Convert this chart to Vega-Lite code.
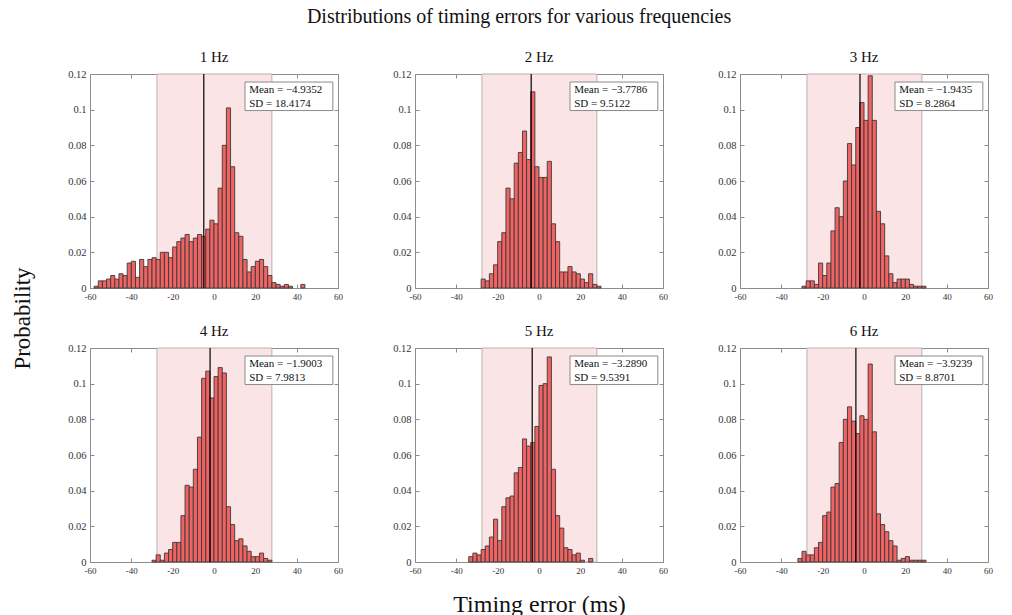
{
  "$schema": "https://vega.github.io/schema/vega-lite/v6.json",
  "padding": {"left": 11, "top": 7, "right": 10, "bottom": 2},
  "title": {"text": "Distributions of timing errors for various frequencies", "fontSize": 20, "anchor": "middle", "frame": "bounds", "dx": 17, "offset": 23},
  "datasets": {
    "stats": [
      {"f": "1 Hz", "mean": -4.9352, "ml": "Mean = −4.9352", "sl": "SD = 18.4174"},
      {"f": "2 Hz", "mean": -3.7786, "ml": "Mean = −3.7786", "sl": "SD = 9.5122"},
      {"f": "3 Hz", "mean": -1.9435, "ml": "Mean = −1.9435", "sl": "SD = 8.2864"},
      {"f": "4 Hz", "mean": -1.9003, "ml": "Mean = −1.9003", "sl": "SD = 7.9813"},
      {"f": "5 Hz", "mean": -3.2890, "ml": "Mean = −3.2890", "sl": "SD = 9.5391"},
      {"f": "6 Hz", "mean": -3.9239, "ml": "Mean = −3.9239", "sl": "SD = 8.8701"}
    ],
    "hist": [
      {"f":"1 Hz","s":-58,"e":-56,"p":0.001},{"f":"1 Hz","s":-56,"e":-54,"p":0.004},{"f":"1 Hz","s":-54,"e":-52,"p":0.004},{"f":"1 Hz","s":-52,"e":-50,"p":0.005},{"f":"1 Hz","s":-50,"e":-48,"p":0.007},{"f":"1 Hz","s":-48,"e":-46,"p":0.005},{"f":"1 Hz","s":-46,"e":-44,"p":0.008},{"f":"1 Hz","s":-44,"e":-42,"p":0.007},{"f":"1 Hz","s":-42,"e":-40,"p":0.014},{"f":"1 Hz","s":-40,"e":-38,"p":0.015},{"f":"1 Hz","s":-38,"e":-36,"p":0.006},{"f":"1 Hz","s":-36,"e":-34,"p":0.016},{"f":"1 Hz","s":-34,"e":-32,"p":0.012},{"f":"1 Hz","s":-32,"e":-30,"p":0.016},{"f":"1 Hz","s":-30,"e":-28,"p":0.017},{"f":"1 Hz","s":-28,"e":-26,"p":0.016},{"f":"1 Hz","s":-26,"e":-24,"p":0.020},{"f":"1 Hz","s":-24,"e":-22,"p":0.020},{"f":"1 Hz","s":-22,"e":-20,"p":0.017},{"f":"1 Hz","s":-20,"e":-18,"p":0.023},{"f":"1 Hz","s":-18,"e":-16,"p":0.026},{"f":"1 Hz","s":-16,"e":-14,"p":0.028},{"f":"1 Hz","s":-14,"e":-12,"p":0.030},{"f":"1 Hz","s":-12,"e":-10,"p":0.026},{"f":"1 Hz","s":-10,"e":-8,"p":0.028},{"f":"1 Hz","s":-8,"e":-6,"p":0.030},{"f":"1 Hz","s":-6,"e":-4,"p":0.029},{"f":"1 Hz","s":-4,"e":-2,"p":0.033},{"f":"1 Hz","s":-2,"e":0,"p":0.038},{"f":"1 Hz","s":0,"e":2,"p":0.036},{"f":"1 Hz","s":2,"e":4,"p":0.056},{"f":"1 Hz","s":4,"e":6,"p":0.080},{"f":"1 Hz","s":6,"e":8,"p":0.101},{"f":"1 Hz","s":8,"e":10,"p":0.068},{"f":"1 Hz","s":10,"e":12,"p":0.031},{"f":"1 Hz","s":12,"e":14,"p":0.029},{"f":"1 Hz","s":14,"e":16,"p":0.016},{"f":"1 Hz","s":16,"e":18,"p":0.009},{"f":"1 Hz","s":18,"e":20,"p":0.012},{"f":"1 Hz","s":20,"e":22,"p":0.015},{"f":"1 Hz","s":22,"e":24,"p":0.016},{"f":"1 Hz","s":24,"e":26,"p":0.012},{"f":"1 Hz","s":26,"e":28,"p":0.007},{"f":"1 Hz","s":28,"e":30,"p":0.003},{"f":"1 Hz","s":30,"e":32,"p":0.002},{"f":"1 Hz","s":32,"e":34,"p":0.001},{"f":"1 Hz","s":34,"e":36,"p":0.002},{"f":"1 Hz","s":36,"e":38,"p":0.001},{"f":"1 Hz","s":42,"e":44,"p":0.002},
      {"f":"2 Hz","s":-28,"e":-26,"p":0.005},{"f":"2 Hz","s":-26,"e":-24,"p":0.004},{"f":"2 Hz","s":-24,"e":-22,"p":0.008},{"f":"2 Hz","s":-22,"e":-20,"p":0.013},{"f":"2 Hz","s":-20,"e":-18,"p":0.026},{"f":"2 Hz","s":-18,"e":-16,"p":0.031},{"f":"2 Hz","s":-16,"e":-14,"p":0.056},{"f":"2 Hz","s":-14,"e":-12,"p":0.050},{"f":"2 Hz","s":-12,"e":-10,"p":0.070},{"f":"2 Hz","s":-10,"e":-8,"p":0.076},{"f":"2 Hz","s":-8,"e":-6,"p":0.088},{"f":"2 Hz","s":-6,"e":-4,"p":0.072},{"f":"2 Hz","s":-4,"e":-2,"p":0.110},{"f":"2 Hz","s":-2,"e":0,"p":0.068},{"f":"2 Hz","s":0,"e":2,"p":0.062},{"f":"2 Hz","s":2,"e":4,"p":0.062},{"f":"2 Hz","s":4,"e":6,"p":0.071},{"f":"2 Hz","s":6,"e":8,"p":0.036},{"f":"2 Hz","s":8,"e":10,"p":0.026},{"f":"2 Hz","s":10,"e":12,"p":0.009},{"f":"2 Hz","s":12,"e":14,"p":0.009},{"f":"2 Hz","s":14,"e":16,"p":0.012},{"f":"2 Hz","s":16,"e":18,"p":0.009},{"f":"2 Hz","s":18,"e":20,"p":0.008},{"f":"2 Hz","s":20,"e":22,"p":0.005},{"f":"2 Hz","s":22,"e":24,"p":0.003},{"f":"2 Hz","s":24,"e":26,"p":0.008},{"f":"2 Hz","s":26,"e":28,"p":0.002},{"f":"2 Hz","s":28,"e":30,"p":0.001},
      {"f":"3 Hz","s":-30,"e":-28,"p":0.001},{"f":"3 Hz","s":-28,"e":-26,"p":0.004},{"f":"3 Hz","s":-26,"e":-24,"p":0.004},{"f":"3 Hz","s":-24,"e":-22,"p":0.002},{"f":"3 Hz","s":-22,"e":-20,"p":0.014},{"f":"3 Hz","s":-20,"e":-18,"p":0.007},{"f":"3 Hz","s":-18,"e":-16,"p":0.014},{"f":"3 Hz","s":-16,"e":-14,"p":0.032},{"f":"3 Hz","s":-14,"e":-12,"p":0.045},{"f":"3 Hz","s":-12,"e":-10,"p":0.040},{"f":"3 Hz","s":-10,"e":-8,"p":0.060},{"f":"3 Hz","s":-8,"e":-6,"p":0.081},{"f":"3 Hz","s":-6,"e":-4,"p":0.069},{"f":"3 Hz","s":-4,"e":-2,"p":0.090},{"f":"3 Hz","s":-2,"e":0,"p":0.104},{"f":"3 Hz","s":0,"e":2,"p":0.094},{"f":"3 Hz","s":2,"e":4,"p":0.119},{"f":"3 Hz","s":4,"e":6,"p":0.094},{"f":"3 Hz","s":6,"e":8,"p":0.043},{"f":"3 Hz","s":8,"e":10,"p":0.036},{"f":"3 Hz","s":10,"e":12,"p":0.018},{"f":"3 Hz","s":12,"e":14,"p":0.008},{"f":"3 Hz","s":14,"e":16,"p":0.003},{"f":"3 Hz","s":16,"e":18,"p":0.005},{"f":"3 Hz","s":18,"e":20,"p":0.005},{"f":"3 Hz","s":20,"e":22,"p":0.005},{"f":"3 Hz","s":22,"e":24,"p":0.002},{"f":"3 Hz","s":24,"e":26,"p":0.001},{"f":"3 Hz","s":26,"e":28,"p":0.001},{"f":"3 Hz","s":28,"e":30,"p":0.001},
      {"f":"4 Hz","s":-30,"e":-28,"p":0.001},{"f":"4 Hz","s":-28,"e":-26,"p":0.004},{"f":"4 Hz","s":-26,"e":-24,"p":0.001},{"f":"4 Hz","s":-24,"e":-22,"p":0.005},{"f":"4 Hz","s":-22,"e":-20,"p":0.007},{"f":"4 Hz","s":-20,"e":-18,"p":0.011},{"f":"4 Hz","s":-18,"e":-16,"p":0.011},{"f":"4 Hz","s":-16,"e":-14,"p":0.026},{"f":"4 Hz","s":-14,"e":-12,"p":0.043},{"f":"4 Hz","s":-12,"e":-10,"p":0.042},{"f":"4 Hz","s":-10,"e":-8,"p":0.052},{"f":"4 Hz","s":-8,"e":-6,"p":0.070},{"f":"4 Hz","s":-6,"e":-4,"p":0.103},{"f":"4 Hz","s":-4,"e":-2,"p":0.107},{"f":"4 Hz","s":-2,"e":0,"p":0.092},{"f":"4 Hz","s":0,"e":2,"p":0.104},{"f":"4 Hz","s":2,"e":4,"p":0.109},{"f":"4 Hz","s":4,"e":6,"p":0.106},{"f":"4 Hz","s":6,"e":8,"p":0.031},{"f":"4 Hz","s":8,"e":10,"p":0.021},{"f":"4 Hz","s":10,"e":12,"p":0.012},{"f":"4 Hz","s":12,"e":14,"p":0.013},{"f":"4 Hz","s":14,"e":16,"p":0.009},{"f":"4 Hz","s":16,"e":18,"p":0.006},{"f":"4 Hz","s":18,"e":20,"p":0.003},{"f":"4 Hz","s":20,"e":22,"p":0.003},{"f":"4 Hz","s":22,"e":24,"p":0.005},{"f":"4 Hz","s":24,"e":26,"p":0.002},{"f":"4 Hz","s":26,"e":28,"p":0.001},
      {"f":"5 Hz","s":-34,"e":-32,"p":0.003},{"f":"5 Hz","s":-32,"e":-30,"p":0.005},{"f":"5 Hz","s":-30,"e":-28,"p":0.004},{"f":"5 Hz","s":-28,"e":-26,"p":0.007},{"f":"5 Hz","s":-26,"e":-24,"p":0.009},{"f":"5 Hz","s":-24,"e":-22,"p":0.014},{"f":"5 Hz","s":-22,"e":-20,"p":0.024},{"f":"5 Hz","s":-20,"e":-18,"p":0.012},{"f":"5 Hz","s":-18,"e":-16,"p":0.031},{"f":"5 Hz","s":-16,"e":-14,"p":0.036},{"f":"5 Hz","s":-14,"e":-12,"p":0.037},{"f":"5 Hz","s":-12,"e":-10,"p":0.050},{"f":"5 Hz","s":-10,"e":-8,"p":0.053},{"f":"5 Hz","s":-8,"e":-6,"p":0.069},{"f":"5 Hz","s":-6,"e":-4,"p":0.065},{"f":"5 Hz","s":-4,"e":-2,"p":0.067},{"f":"5 Hz","s":-2,"e":0,"p":0.076},{"f":"5 Hz","s":0,"e":2,"p":0.099},{"f":"5 Hz","s":2,"e":4,"p":0.100},{"f":"5 Hz","s":4,"e":6,"p":0.115},{"f":"5 Hz","s":6,"e":8,"p":0.052},{"f":"5 Hz","s":8,"e":10,"p":0.026},{"f":"5 Hz","s":10,"e":12,"p":0.019},{"f":"5 Hz","s":12,"e":14,"p":0.008},{"f":"5 Hz","s":14,"e":16,"p":0.007},{"f":"5 Hz","s":16,"e":18,"p":0.004},{"f":"5 Hz","s":18,"e":20,"p":0.005},{"f":"5 Hz","s":20,"e":22,"p":0.001},{"f":"5 Hz","s":24,"e":26,"p":0.002},
      {"f":"6 Hz","s":-32,"e":-30,"p":0.002},{"f":"6 Hz","s":-30,"e":-28,"p":0.006},{"f":"6 Hz","s":-28,"e":-26,"p":0.004},{"f":"6 Hz","s":-26,"e":-24,"p":0.004},{"f":"6 Hz","s":-24,"e":-22,"p":0.008},{"f":"6 Hz","s":-22,"e":-20,"p":0.011},{"f":"6 Hz","s":-20,"e":-18,"p":0.026},{"f":"6 Hz","s":-18,"e":-16,"p":0.028},{"f":"6 Hz","s":-16,"e":-14,"p":0.042},{"f":"6 Hz","s":-14,"e":-12,"p":0.044},{"f":"6 Hz","s":-12,"e":-10,"p":0.067},{"f":"6 Hz","s":-10,"e":-8,"p":0.080},{"f":"6 Hz","s":-8,"e":-6,"p":0.087},{"f":"6 Hz","s":-6,"e":-4,"p":0.079},{"f":"6 Hz","s":-4,"e":-2,"p":0.072},{"f":"6 Hz","s":-2,"e":0,"p":0.082},{"f":"6 Hz","s":0,"e":2,"p":0.080},{"f":"6 Hz","s":2,"e":4,"p":0.111},{"f":"6 Hz","s":4,"e":6,"p":0.073},{"f":"6 Hz","s":6,"e":8,"p":0.027},{"f":"6 Hz","s":8,"e":10,"p":0.021},{"f":"6 Hz","s":10,"e":12,"p":0.017},{"f":"6 Hz","s":12,"e":14,"p":0.012},{"f":"6 Hz","s":14,"e":16,"p":0.009},{"f":"6 Hz","s":16,"e":18,"p":0.001},{"f":"6 Hz","s":18,"e":20,"p":0.002},{"f":"6 Hz","s":20,"e":22,"p":0.003},{"f":"6 Hz","s":22,"e":24,"p":0.001},{"f":"6 Hz","s":24,"e":26,"p":0.001},{"f":"6 Hz","s":26,"e":28,"p":0.001},{"f":"6 Hz","s":28,"e":30,"p":0.001}
    ]
  },
  "columns": 3,
  "spacing": {"row": 60, "column": 77},
  "bounds": "flush",
  "concat": [
    {
      "width": 248, "height": 214, "title": {"text": "1 Hz"},
      "resolve": {"axis": {"x": "independent", "y": "independent"}},
      "layer": [
        {"data": {"name": "stats"}, "transform": [{"filter": "datum.f == '1 Hz'"}], "mark": {"type": "rect", "fill": "#fbe4e5", "stroke": "#bdb0b1", "strokeWidth": 1},
         "encoding": {"x": {"datum": -27.6, "type": "quantitative", "scale": {"domain": [-60, 60], "nice": false, "zero": false}, "axis": null}, "x2": {"datum": 28.0}, "y": {"datum": 0, "type": "quantitative", "scale": {"domain": [0, 0.12], "nice": false}, "axis": null}, "y2": {"datum": 0.12}}},
        {"data": {"name": "hist"}, "transform": [{"filter": "datum.f == '1 Hz'"}], "mark": {"type": "rect", "fill": "#f16262", "stroke": "#3a3a3a", "strokeWidth": 0.9},
         "encoding": {"x": {"field": "s", "type": "quantitative", "scale": {"domain": [-60, 60], "nice": false, "zero": false}, "axis": {"values": [-60, -40, -20, 0, 20, 40, 60], "labelExpr": "toString(datum.value)", "title": null}}, "x2": {"field": "e"}, "y": {"field": "p", "type": "quantitative", "scale": {"domain": [0, 0.12], "nice": false}, "axis": {"values": [0, 0.02, 0.04, 0.06, 0.08, 0.1, 0.12], "labelExpr": "toString(datum.value)", "labelFontSize": 10.5, "title": "Probability", "titleFontSize": 23, "titleY": 244, "titlePadding": 33}}, "y2": {"datum": 0}}},
        {"data": {"name": "stats"}, "transform": [{"filter": "datum.f == '1 Hz'"}], "mark": {"type": "rule", "color": "#000000", "strokeWidth": 1.2},
         "encoding": {"x": {"field": "mean", "type": "quantitative", "axis": null}, "y": {"datum": 0, "type": "quantitative", "axis": null}, "y2": {"datum": 0.12}}},
        {"data": {"name": "stats"}, "transform": [{"filter": "datum.f == '1 Hz'"}], "mark": {"type": "rect", "fill": "#ffffff", "stroke": "#8a8a8a", "strokeWidth": 1},
         "encoding": {"x": {"datum": 15, "type": "quantitative", "axis": null}, "x2": {"datum": 57.5}, "y": {"datum": 0.1155, "type": "quantitative", "axis": null}, "y2": {"datum": 0.0995}}},
        {"data": {"name": "stats"}, "transform": [{"filter": "datum.f == '1 Hz'"}], "mark": {"type": "text", "align": "left", "baseline": "middle", "fontSize": 11, "color": "#111111"},
         "encoding": {"x": {"datum": 17, "type": "quantitative", "axis": null}, "y": {"datum": 0.111, "type": "quantitative", "axis": null}, "text": {"field": "ml"}}},
        {"data": {"name": "stats"}, "transform": [{"filter": "datum.f == '1 Hz'"}], "mark": {"type": "text", "align": "left", "baseline": "middle", "fontSize": 11, "color": "#111111"},
         "encoding": {"x": {"datum": 17, "type": "quantitative", "axis": null}, "y": {"datum": 0.1033, "type": "quantitative", "axis": null}, "text": {"field": "sl"}}},
        {"data": {"name": "hist"}, "transform": [{"filter": "datum.f == '1 Hz'"}], "mark": {"type": "point", "opacity": 0},
         "encoding": {"x": {"field": "s", "type": "quantitative", "axis": {"orient": "top", "labels": false, "title": null, "values": [-60, -40, -20, 0, 20, 40, 60]}}, "y": {"field": "p", "type": "quantitative", "axis": {"orient": "right", "labels": false, "title": null, "values": [0, 0.02, 0.04, 0.06, 0.08, 0.1, 0.12]}}}}
      ]
    },
    {
      "width": 248, "height": 214, "title": {"text": "2 Hz"},
      "resolve": {"axis": {"x": "independent", "y": "independent"}},
      "layer": [
        {"data": {"name": "stats"}, "transform": [{"filter": "datum.f == '2 Hz'"}], "mark": {"type": "rect", "fill": "#fbe4e5", "stroke": "#bdb0b1", "strokeWidth": 1},
         "encoding": {"x": {"datum": -27.6, "type": "quantitative", "scale": {"domain": [-60, 60], "nice": false, "zero": false}, "axis": null}, "x2": {"datum": 28.0}, "y": {"datum": 0, "type": "quantitative", "scale": {"domain": [0, 0.12], "nice": false}, "axis": null}, "y2": {"datum": 0.12}}},
        {"data": {"name": "hist"}, "transform": [{"filter": "datum.f == '2 Hz'"}], "mark": {"type": "rect", "fill": "#f16262", "stroke": "#3a3a3a", "strokeWidth": 0.9},
         "encoding": {"x": {"field": "s", "type": "quantitative", "scale": {"domain": [-60, 60], "nice": false, "zero": false}, "axis": {"values": [-60, -40, -20, 0, 20, 40, 60], "labelExpr": "toString(datum.value)", "title": null}}, "x2": {"field": "e"}, "y": {"field": "p", "type": "quantitative", "scale": {"domain": [0, 0.12], "nice": false}, "axis": {"values": [0, 0.02, 0.04, 0.06, 0.08, 0.1, 0.12], "labelExpr": "toString(datum.value)", "labelFontSize": 10.5, "title": null}}, "y2": {"datum": 0}}},
        {"data": {"name": "stats"}, "transform": [{"filter": "datum.f == '2 Hz'"}], "mark": {"type": "rule", "color": "#000000", "strokeWidth": 1.2},
         "encoding": {"x": {"field": "mean", "type": "quantitative", "axis": null}, "y": {"datum": 0, "type": "quantitative", "axis": null}, "y2": {"datum": 0.12}}},
        {"data": {"name": "stats"}, "transform": [{"filter": "datum.f == '2 Hz'"}], "mark": {"type": "rect", "fill": "#ffffff", "stroke": "#8a8a8a", "strokeWidth": 1},
         "encoding": {"x": {"datum": 15, "type": "quantitative", "axis": null}, "x2": {"datum": 57.5}, "y": {"datum": 0.1155, "type": "quantitative", "axis": null}, "y2": {"datum": 0.0995}}},
        {"data": {"name": "stats"}, "transform": [{"filter": "datum.f == '2 Hz'"}], "mark": {"type": "text", "align": "left", "baseline": "middle", "fontSize": 11, "color": "#111111"},
         "encoding": {"x": {"datum": 17, "type": "quantitative", "axis": null}, "y": {"datum": 0.111, "type": "quantitative", "axis": null}, "text": {"field": "ml"}}},
        {"data": {"name": "stats"}, "transform": [{"filter": "datum.f == '2 Hz'"}], "mark": {"type": "text", "align": "left", "baseline": "middle", "fontSize": 11, "color": "#111111"},
         "encoding": {"x": {"datum": 17, "type": "quantitative", "axis": null}, "y": {"datum": 0.1033, "type": "quantitative", "axis": null}, "text": {"field": "sl"}}},
        {"data": {"name": "hist"}, "transform": [{"filter": "datum.f == '2 Hz'"}], "mark": {"type": "point", "opacity": 0},
         "encoding": {"x": {"field": "s", "type": "quantitative", "axis": {"orient": "top", "labels": false, "title": null, "values": [-60, -40, -20, 0, 20, 40, 60]}}, "y": {"field": "p", "type": "quantitative", "axis": {"orient": "right", "labels": false, "title": null, "values": [0, 0.02, 0.04, 0.06, 0.08, 0.1, 0.12]}}}}
      ]
    },
    {
      "width": 248, "height": 214, "title": {"text": "3 Hz"},
      "resolve": {"axis": {"x": "independent", "y": "independent"}},
      "layer": [
        {"data": {"name": "stats"}, "transform": [{"filter": "datum.f == '3 Hz'"}], "mark": {"type": "rect", "fill": "#fbe4e5", "stroke": "#bdb0b1", "strokeWidth": 1},
         "encoding": {"x": {"datum": -27.6, "type": "quantitative", "scale": {"domain": [-60, 60], "nice": false, "zero": false}, "axis": null}, "x2": {"datum": 28.0}, "y": {"datum": 0, "type": "quantitative", "scale": {"domain": [0, 0.12], "nice": false}, "axis": null}, "y2": {"datum": 0.12}}},
        {"data": {"name": "hist"}, "transform": [{"filter": "datum.f == '3 Hz'"}], "mark": {"type": "rect", "fill": "#f16262", "stroke": "#3a3a3a", "strokeWidth": 0.9},
         "encoding": {"x": {"field": "s", "type": "quantitative", "scale": {"domain": [-60, 60], "nice": false, "zero": false}, "axis": {"values": [-60, -40, -20, 0, 20, 40, 60], "labelExpr": "toString(datum.value)", "title": null}}, "x2": {"field": "e"}, "y": {"field": "p", "type": "quantitative", "scale": {"domain": [0, 0.12], "nice": false}, "axis": {"values": [0, 0.02, 0.04, 0.06, 0.08, 0.1, 0.12], "labelExpr": "toString(datum.value)", "labelFontSize": 10.5, "title": null}}, "y2": {"datum": 0}}},
        {"data": {"name": "stats"}, "transform": [{"filter": "datum.f == '3 Hz'"}], "mark": {"type": "rule", "color": "#000000", "strokeWidth": 1.2},
         "encoding": {"x": {"field": "mean", "type": "quantitative", "axis": null}, "y": {"datum": 0, "type": "quantitative", "axis": null}, "y2": {"datum": 0.12}}},
        {"data": {"name": "stats"}, "transform": [{"filter": "datum.f == '3 Hz'"}], "mark": {"type": "rect", "fill": "#ffffff", "stroke": "#8a8a8a", "strokeWidth": 1},
         "encoding": {"x": {"datum": 15, "type": "quantitative", "axis": null}, "x2": {"datum": 57.5}, "y": {"datum": 0.1155, "type": "quantitative", "axis": null}, "y2": {"datum": 0.0995}}},
        {"data": {"name": "stats"}, "transform": [{"filter": "datum.f == '3 Hz'"}], "mark": {"type": "text", "align": "left", "baseline": "middle", "fontSize": 11, "color": "#111111"},
         "encoding": {"x": {"datum": 17, "type": "quantitative", "axis": null}, "y": {"datum": 0.111, "type": "quantitative", "axis": null}, "text": {"field": "ml"}}},
        {"data": {"name": "stats"}, "transform": [{"filter": "datum.f == '3 Hz'"}], "mark": {"type": "text", "align": "left", "baseline": "middle", "fontSize": 11, "color": "#111111"},
         "encoding": {"x": {"datum": 17, "type": "quantitative", "axis": null}, "y": {"datum": 0.1033, "type": "quantitative", "axis": null}, "text": {"field": "sl"}}},
        {"data": {"name": "hist"}, "transform": [{"filter": "datum.f == '3 Hz'"}], "mark": {"type": "point", "opacity": 0},
         "encoding": {"x": {"field": "s", "type": "quantitative", "axis": {"orient": "top", "labels": false, "title": null, "values": [-60, -40, -20, 0, 20, 40, 60]}}, "y": {"field": "p", "type": "quantitative", "axis": {"orient": "right", "labels": false, "title": null, "values": [0, 0.02, 0.04, 0.06, 0.08, 0.1, 0.12]}}}}
      ]
    },
    {
      "width": 248, "height": 214, "title": {"text": "4 Hz"},
      "resolve": {"axis": {"x": "independent", "y": "independent"}},
      "layer": [
        {"data": {"name": "stats"}, "transform": [{"filter": "datum.f == '4 Hz'"}], "mark": {"type": "rect", "fill": "#fbe4e5", "stroke": "#bdb0b1", "strokeWidth": 1},
         "encoding": {"x": {"datum": -27.6, "type": "quantitative", "scale": {"domain": [-60, 60], "nice": false, "zero": false}, "axis": null}, "x2": {"datum": 28.0}, "y": {"datum": 0, "type": "quantitative", "scale": {"domain": [0, 0.12], "nice": false}, "axis": null}, "y2": {"datum": 0.12}}},
        {"data": {"name": "hist"}, "transform": [{"filter": "datum.f == '4 Hz'"}], "mark": {"type": "rect", "fill": "#f16262", "stroke": "#3a3a3a", "strokeWidth": 0.9},
         "encoding": {"x": {"field": "s", "type": "quantitative", "scale": {"domain": [-60, 60], "nice": false, "zero": false}, "axis": {"values": [-60, -40, -20, 0, 20, 40, 60], "labelExpr": "toString(datum.value)", "title": null}}, "x2": {"field": "e"}, "y": {"field": "p", "type": "quantitative", "scale": {"domain": [0, 0.12], "nice": false}, "axis": {"values": [0, 0.02, 0.04, 0.06, 0.08, 0.1, 0.12], "labelExpr": "toString(datum.value)", "labelFontSize": 10.5, "title": null}}, "y2": {"datum": 0}}},
        {"data": {"name": "stats"}, "transform": [{"filter": "datum.f == '4 Hz'"}], "mark": {"type": "rule", "color": "#000000", "strokeWidth": 1.2},
         "encoding": {"x": {"field": "mean", "type": "quantitative", "axis": null}, "y": {"datum": 0, "type": "quantitative", "axis": null}, "y2": {"datum": 0.12}}},
        {"data": {"name": "stats"}, "transform": [{"filter": "datum.f == '4 Hz'"}], "mark": {"type": "rect", "fill": "#ffffff", "stroke": "#8a8a8a", "strokeWidth": 1},
         "encoding": {"x": {"datum": 15, "type": "quantitative", "axis": null}, "x2": {"datum": 57.5}, "y": {"datum": 0.1155, "type": "quantitative", "axis": null}, "y2": {"datum": 0.0995}}},
        {"data": {"name": "stats"}, "transform": [{"filter": "datum.f == '4 Hz'"}], "mark": {"type": "text", "align": "left", "baseline": "middle", "fontSize": 11, "color": "#111111"},
         "encoding": {"x": {"datum": 17, "type": "quantitative", "axis": null}, "y": {"datum": 0.111, "type": "quantitative", "axis": null}, "text": {"field": "ml"}}},
        {"data": {"name": "stats"}, "transform": [{"filter": "datum.f == '4 Hz'"}], "mark": {"type": "text", "align": "left", "baseline": "middle", "fontSize": 11, "color": "#111111"},
         "encoding": {"x": {"datum": 17, "type": "quantitative", "axis": null}, "y": {"datum": 0.1033, "type": "quantitative", "axis": null}, "text": {"field": "sl"}}},
        {"data": {"name": "hist"}, "transform": [{"filter": "datum.f == '4 Hz'"}], "mark": {"type": "point", "opacity": 0},
         "encoding": {"x": {"field": "s", "type": "quantitative", "axis": {"orient": "top", "labels": false, "title": null, "values": [-60, -40, -20, 0, 20, 40, 60]}}, "y": {"field": "p", "type": "quantitative", "axis": {"orient": "right", "labels": false, "title": null, "values": [0, 0.02, 0.04, 0.06, 0.08, 0.1, 0.12]}}}}
      ]
    },
    {
      "width": 248, "height": 214, "title": {"text": "5 Hz"},
      "resolve": {"axis": {"x": "independent", "y": "independent"}},
      "layer": [
        {"data": {"name": "stats"}, "transform": [{"filter": "datum.f == '5 Hz'"}], "mark": {"type": "rect", "fill": "#fbe4e5", "stroke": "#bdb0b1", "strokeWidth": 1},
         "encoding": {"x": {"datum": -27.6, "type": "quantitative", "scale": {"domain": [-60, 60], "nice": false, "zero": false}, "axis": null}, "x2": {"datum": 28.0}, "y": {"datum": 0, "type": "quantitative", "scale": {"domain": [0, 0.12], "nice": false}, "axis": null}, "y2": {"datum": 0.12}}},
        {"data": {"name": "hist"}, "transform": [{"filter": "datum.f == '5 Hz'"}], "mark": {"type": "rect", "fill": "#f16262", "stroke": "#3a3a3a", "strokeWidth": 0.9},
         "encoding": {"x": {"field": "s", "type": "quantitative", "scale": {"domain": [-60, 60], "nice": false, "zero": false}, "axis": {"values": [-60, -40, -20, 0, 20, 40, 60], "labelExpr": "toString(datum.value)", "title": "Timing error (ms)", "titleFontSize": 24, "titlePadding": 17}}, "x2": {"field": "e"}, "y": {"field": "p", "type": "quantitative", "scale": {"domain": [0, 0.12], "nice": false}, "axis": {"values": [0, 0.02, 0.04, 0.06, 0.08, 0.1, 0.12], "labelExpr": "toString(datum.value)", "labelFontSize": 10.5, "title": null}}, "y2": {"datum": 0}}},
        {"data": {"name": "stats"}, "transform": [{"filter": "datum.f == '5 Hz'"}], "mark": {"type": "rule", "color": "#000000", "strokeWidth": 1.2},
         "encoding": {"x": {"field": "mean", "type": "quantitative", "axis": null}, "y": {"datum": 0, "type": "quantitative", "axis": null}, "y2": {"datum": 0.12}}},
        {"data": {"name": "stats"}, "transform": [{"filter": "datum.f == '5 Hz'"}], "mark": {"type": "rect", "fill": "#ffffff", "stroke": "#8a8a8a", "strokeWidth": 1},
         "encoding": {"x": {"datum": 15, "type": "quantitative", "axis": null}, "x2": {"datum": 57.5}, "y": {"datum": 0.1155, "type": "quantitative", "axis": null}, "y2": {"datum": 0.0995}}},
        {"data": {"name": "stats"}, "transform": [{"filter": "datum.f == '5 Hz'"}], "mark": {"type": "text", "align": "left", "baseline": "middle", "fontSize": 11, "color": "#111111"},
         "encoding": {"x": {"datum": 17, "type": "quantitative", "axis": null}, "y": {"datum": 0.111, "type": "quantitative", "axis": null}, "text": {"field": "ml"}}},
        {"data": {"name": "stats"}, "transform": [{"filter": "datum.f == '5 Hz'"}], "mark": {"type": "text", "align": "left", "baseline": "middle", "fontSize": 11, "color": "#111111"},
         "encoding": {"x": {"datum": 17, "type": "quantitative", "axis": null}, "y": {"datum": 0.1033, "type": "quantitative", "axis": null}, "text": {"field": "sl"}}},
        {"data": {"name": "hist"}, "transform": [{"filter": "datum.f == '5 Hz'"}], "mark": {"type": "point", "opacity": 0},
         "encoding": {"x": {"field": "s", "type": "quantitative", "axis": {"orient": "top", "labels": false, "title": null, "values": [-60, -40, -20, 0, 20, 40, 60]}}, "y": {"field": "p", "type": "quantitative", "axis": {"orient": "right", "labels": false, "title": null, "values": [0, 0.02, 0.04, 0.06, 0.08, 0.1, 0.12]}}}}
      ]
    },
    {
      "width": 248, "height": 214, "title": {"text": "6 Hz"},
      "resolve": {"axis": {"x": "independent", "y": "independent"}},
      "layer": [
        {"data": {"name": "stats"}, "transform": [{"filter": "datum.f == '6 Hz'"}], "mark": {"type": "rect", "fill": "#fbe4e5", "stroke": "#bdb0b1", "strokeWidth": 1},
         "encoding": {"x": {"datum": -27.6, "type": "quantitative", "scale": {"domain": [-60, 60], "nice": false, "zero": false}, "axis": null}, "x2": {"datum": 28.0}, "y": {"datum": 0, "type": "quantitative", "scale": {"domain": [0, 0.12], "nice": false}, "axis": null}, "y2": {"datum": 0.12}}},
        {"data": {"name": "hist"}, "transform": [{"filter": "datum.f == '6 Hz'"}], "mark": {"type": "rect", "fill": "#f16262", "stroke": "#3a3a3a", "strokeWidth": 0.9},
         "encoding": {"x": {"field": "s", "type": "quantitative", "scale": {"domain": [-60, 60], "nice": false, "zero": false}, "axis": {"values": [-60, -40, -20, 0, 20, 40, 60], "labelExpr": "toString(datum.value)", "title": null}}, "x2": {"field": "e"}, "y": {"field": "p", "type": "quantitative", "scale": {"domain": [0, 0.12], "nice": false}, "axis": {"values": [0, 0.02, 0.04, 0.06, 0.08, 0.1, 0.12], "labelExpr": "toString(datum.value)", "labelFontSize": 10.5, "title": null}}, "y2": {"datum": 0}}},
        {"data": {"name": "stats"}, "transform": [{"filter": "datum.f == '6 Hz'"}], "mark": {"type": "rule", "color": "#000000", "strokeWidth": 1.2},
         "encoding": {"x": {"field": "mean", "type": "quantitative", "axis": null}, "y": {"datum": 0, "type": "quantitative", "axis": null}, "y2": {"datum": 0.12}}},
        {"data": {"name": "stats"}, "transform": [{"filter": "datum.f == '6 Hz'"}], "mark": {"type": "rect", "fill": "#ffffff", "stroke": "#8a8a8a", "strokeWidth": 1},
         "encoding": {"x": {"datum": 15, "type": "quantitative", "axis": null}, "x2": {"datum": 57.5}, "y": {"datum": 0.1155, "type": "quantitative", "axis": null}, "y2": {"datum": 0.0995}}},
        {"data": {"name": "stats"}, "transform": [{"filter": "datum.f == '6 Hz'"}], "mark": {"type": "text", "align": "left", "baseline": "middle", "fontSize": 11, "color": "#111111"},
         "encoding": {"x": {"datum": 17, "type": "quantitative", "axis": null}, "y": {"datum": 0.111, "type": "quantitative", "axis": null}, "text": {"field": "ml"}}},
        {"data": {"name": "stats"}, "transform": [{"filter": "datum.f == '6 Hz'"}], "mark": {"type": "text", "align": "left", "baseline": "middle", "fontSize": 11, "color": "#111111"},
         "encoding": {"x": {"datum": 17, "type": "quantitative", "axis": null}, "y": {"datum": 0.1033, "type": "quantitative", "axis": null}, "text": {"field": "sl"}}},
        {"data": {"name": "hist"}, "transform": [{"filter": "datum.f == '6 Hz'"}], "mark": {"type": "point", "opacity": 0},
         "encoding": {"x": {"field": "s", "type": "quantitative", "axis": {"orient": "top", "labels": false, "title": null, "values": [-60, -40, -20, 0, 20, 40, 60]}}, "y": {"field": "p", "type": "quantitative", "axis": {"orient": "right", "labels": false, "title": null, "values": [0, 0.02, 0.04, 0.06, 0.08, 0.1, 0.12]}}}}
      ]
    }
  ],
  "config": {
    "font": "Liberation Serif",
    "view": {"stroke": null},
    "title": {"font": "Liberation Serif", "fontWeight": "normal", "fontSize": 15, "color": "#111111", "frame": "group", "offset": 4},
    "axis": {"grid": false, "domainColor": "#8c8c8c", "domainWidth": 1, "tickColor": "#8c8c8c", "tickWidth": 1, "tickSize": -4, "labelPadding": 8, "labelColor": "#333333", "labelFont": "Liberation Serif", "titleFont": "Liberation Serif", "titleFontWeight": "normal", "titleColor": "#111111", "labelFlush": false, "labelOverlap": false},
    "axisX": {"labelFontSize": 9},
    "axisY": {"labelFontSize": 10.5}
  }
}
